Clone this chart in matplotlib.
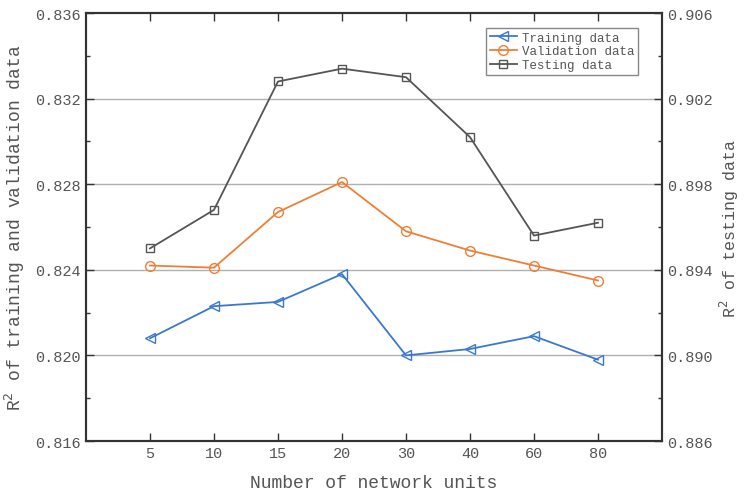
import matplotlib
matplotlib.use("Agg")
import matplotlib.pyplot as plt
from matplotlib.ticker import FormatStrFormatter

# chart data
units = ["5", "10", "15", "20", "30", "40", "60", "80"]
training = [0.8208, 0.8223, 0.8225, 0.8238, 0.8200, 0.8203, 0.8209, 0.8198]
validation = [0.8242, 0.8241, 0.8267, 0.8281, 0.8258, 0.8249, 0.8242, 0.8235]
testing = [0.8950, 0.8968, 0.9028, 0.9034, 0.9030, 0.9002, 0.8956, 0.8962]
left_ticks = [0.816, 0.820, 0.824, 0.828, 0.832, 0.836]
right_ticks = [0.886, 0.890, 0.894, 0.898, 0.902, 0.906]

plt.rcParams["font.family"] = ["Liberation Mono", "DejaVu Sans"]
txt = "#555555"

fig = plt.figure(figsize=(7.45, 5.02), dpi=100)
ax = fig.add_axes([0.1154, 0.1195, 0.7732, 0.8526])
ax2 = ax.twinx()

x = list(range(1, len(units) + 1))

for v in left_ticks[1:-1]:
    ax.axhline(v, color="#b0b0b0", lw=1.0, zorder=0)

l1, = ax.plot(x, training, color="#3a78d0", marker="<", ms=7.5, mfc="none",
              lw=1.3, label="Training data")
l2, = ax.plot(x, validation, color="#ee7f35", marker="o", ms=7, mfc="none",
              lw=1.3, label="Validation data")
l3, = ax2.plot(x, testing, color="#555555", marker="s", ms=6, mfc="none",
               lw=1.3, label="Testing data")

ax.set_xlim(0, 9)
ax.set_ylim(left_ticks[0], left_ticks[-1])
ax2.set_ylim(right_ticks[0], right_ticks[-1])
ax.set_xticks(x)
ax.set_xticklabels(units)

ax.set_yticks(left_ticks)
ax2.set_yticks(right_ticks)
ax.set_yticks([(a + b) / 2 for a, b in zip(left_ticks[:-1], left_ticks[1:])], minor=True)
ax2.set_yticks([(a + b) / 2 for a, b in zip(right_ticks[:-1], right_ticks[1:])], minor=True)
ax.yaxis.set_major_formatter(FormatStrFormatter("%.3f"))
ax2.yaxis.set_major_formatter(FormatStrFormatter("%.3f"))

ax.tick_params(axis="both", which="both", direction="in", labelsize=11,
               labelcolor=txt, top=True, color="#333333")
ax.tick_params(which="major", length=6, width=1)
ax.tick_params(which="minor", length=3, width=1)
ax2.tick_params(axis="y", which="both", direction="in", labelsize=11,
                labelcolor=txt, color="#333333")
ax2.tick_params(which="major", length=6, width=1)
ax2.tick_params(which="minor", length=3, width=1)

for a in (ax, ax2):
    for s in a.spines.values():
        s.set_linewidth(1.5)
        s.set_color("#333333")

ax.set_xlabel("Number of network units", fontsize=13, color=txt, labelpad=10)
ax.set_ylabel("R$^2$ of training and validation data", fontsize=13, color=txt,
              labelpad=6)
ax2.set_ylabel("R$^2$ of testing data", fontsize=12, color=txt, labelpad=4)

leg = ax.legend(handles=[l1, l2, l3], loc="upper right",
                bbox_to_anchor=(0.97, 0.98), fontsize=9, fancybox=False,
                edgecolor="#888888", framealpha=1, borderpad=0.3,
                labelspacing=0.15, handlelength=2.2, handletextpad=0.4)
for t in leg.get_texts():
    t.set_color(txt)
leg.get_frame().set_linewidth(1.0)

fig.savefig("out.png", dpi=100)
